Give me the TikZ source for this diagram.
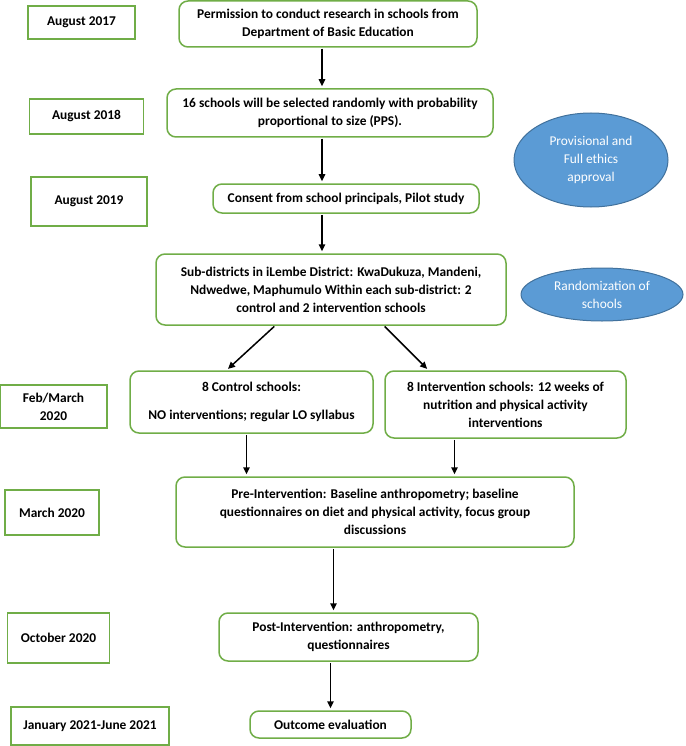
\documentclass[tikz,border=0pt]{standalone}
\usepackage{fontspec}
\setmainfont{Carlito}
\usetikzlibrary{shapes.geometric,arrows.meta,calc}
\definecolor{boxgreen}{RGB}{112,173,71}
\definecolor{ovalblue}{RGB}{91,155,213}
\definecolor{ovalline}{RGB}{65,113,156}

\begin{document}
\begin{tikzpicture}[
	x=1pt, y=-1pt,
	date/.style={
		draw=boxgreen, line width=1.8pt,
		inner sep=0pt, align=center, text=black,
		font=\fontsize{13.4}{18}\selectfont\bfseries
	},
	stepbox/.style={
		draw=boxgreen, line width=1.5pt, rounded corners=9pt,
		inner sep=0pt, align=center, text=black,
		font=\fontsize{13.4}{18}\selectfont\bfseries
	},
	oval/.style={
		ellipse, draw=ovalline, line width=1pt, fill=ovalblue,
		inner sep=0pt, align=center, text=white,
		font=\fontsize{13.4}{18}\selectfont
	},
	flow/.style={->, line width=1.5pt, shorten >=2pt, shorten <=1pt},
	>={Triangle[length=7pt,width=6.5pt]}
	]
	\useasboundingbox (0,0) rectangle (685,746);
	% dates
	\node[date, minimum width=107pt, minimum height=33pt] (d1) at (81.5,22.5) {August 2017};
	\node[date, minimum width=114pt, minimum height=35pt] (d2) at (86.5,116.5) {August 2018};
	\node[date, minimum width=116pt, minimum height=49pt] (d3) at (89,201.5) {August 2019};
	\node[date, minimum width=107pt, minimum height=43pt] (d4) at (53.5,406.5) {Feb/March\\2020};
	\node[date, minimum width=94pt, minimum height=45pt] (d5) at (52,512.5) {March 2020};
	\node[date, minimum width=102pt, minimum height=50pt] (d6) at (58.5,638) {October 2020};
	\node[date, minimum width=158pt, minimum height=38pt] (d7) at (90,726) {January 2021-June 2021};
	% steps
	\node[stepbox, minimum width=298pt, minimum height=46pt] (perm) at (328,24) {Permission to conduct research in schools from\\Department of Basic Education};
	\node[stepbox, minimum width=326pt, minimum height=48pt] (sel) at (330,113) {16 schools will be selected randomly with probability\\proportional to size (PPS).};
	\node[stepbox, minimum width=266pt, minimum height=29pt] (cons) at (346,198.5) {Consent from school principals, Pilot study};
	\node[stepbox, minimum width=350pt, minimum height=71pt] (sub) at (331,289.5) {Sub-districts in iLembe District: KwaDukuza, Mandeni,\\Ndwedwe, Maphumulo Within each sub-district: 2\\control and 2 intervention schools};
	\node[stepbox, minimum width=243pt, minimum height=62pt] (ctrl) at (251.5,402) {8 Control schools:\\[10pt]NO interventions; regular LO syllabus};
	\node[stepbox, minimum width=241pt, minimum height=67pt] (intv) at (505.5,404.5) {8 Intervention schools: 12 weeks of\\nutrition and physical activity\\interventions};
	\node[stepbox, minimum width=398pt, minimum height=70pt] (pre) at (375,512) {Pre-Intervention: Baseline anthropometry; baseline\\questionnaires on diet and physical activity, focus group\\discussions};
	\node[stepbox, minimum width=259pt, minimum height=48pt] (post) at (348.5,637) {Post-Intervention: anthropometry,\\questionnaires};
	\node[stepbox, minimum width=161pt, minimum height=27pt] (outc) at (330.5,724.5) {Outcome evaluation};
	% ovals
	\node[oval, minimum width=154pt, minimum height=94pt] (eth) at (591,160) {Provisional and\\Full ethics\\approval};
	\node[oval, minimum width=162pt, minimum height=53pt] (rand) at (602,294.5) {Randomization of\\schools};
	% arrows
	\draw[flow] ([xshift=-6pt]perm.south) -- ([xshift=-8pt]sel.north);
	\draw[flow] ([xshift=-8pt]sel.south) -- ([xshift=-8pt]sel.south |- cons.north);
	\draw[flow] ([xshift=-9pt]sub.north |- cons.south) -- ([xshift=-9pt]sub.north);
	\draw[flow] ([xshift=-56pt]sub.south) -- ([xshift=-25pt]ctrl.north);
	\draw[flow] ([xshift=53pt]sub.south) -- ([xshift=-77pt]intv.north);
	\draw[flow] ([xshift=-5pt]ctrl.south) -- ([xshift=-5pt]ctrl.south |- pre.north);
	\draw[flow] ([xshift=-51pt]intv.south) -- ([xshift=-51pt]intv.south |- pre.north);
	\draw[flow] ([xshift=-15pt]post.north |- pre.south) -- ([xshift=-15pt]post.north);
	\draw[flow] (post.south -| outc.north) -- (outc.north);
\end{tikzpicture}
\end{document}
